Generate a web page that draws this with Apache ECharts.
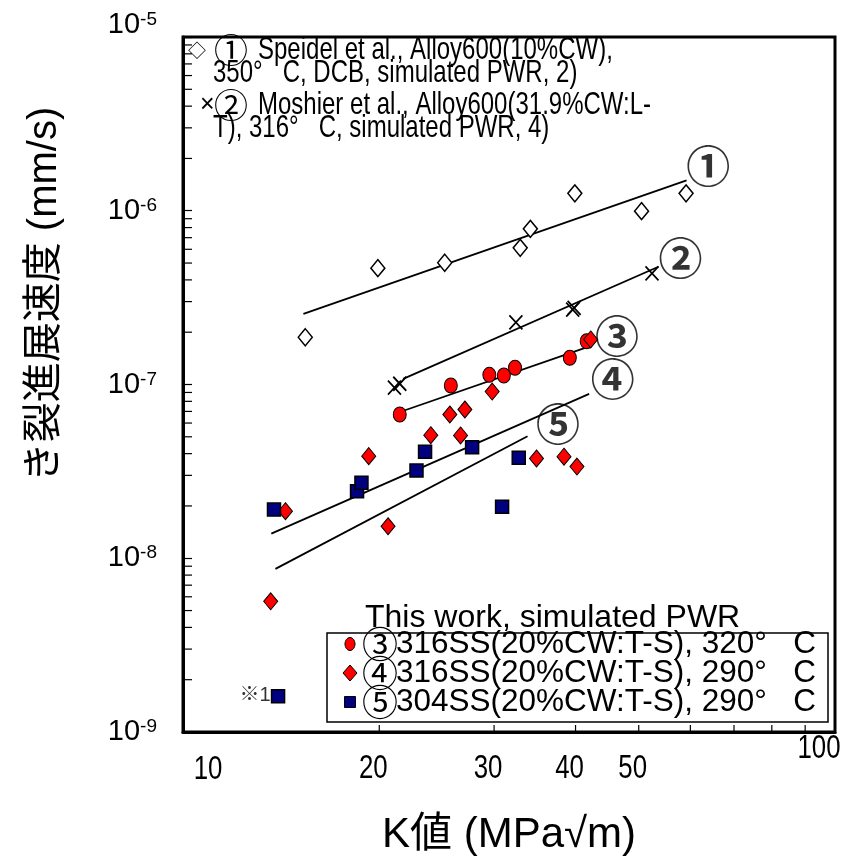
<!DOCTYPE html>
<html>
<head>
<meta charset="utf-8">
<script src="https://cdn.jsdelivr.net/npm/echarts@6/dist/echarts.min.js"></script>
<style>
  html, body { margin: 0; padding: 0; background: #fff; }
  #main { width: 854px; height: 864px; }
</style>
</head>
<body>
<div id="main"></div>
<script>
// K value (MPa√m) and crack growth rate (mm/s)
const speidelK = [15.4, 19.9, 25.2, 32.9, 34.1, 39.9, 50.5, 59.1];
const speidelRate = [1.87e-7, 4.67e-7, 5.02e-7, 6.12e-7, 7.87e-7, 1.26e-6, 9.95e-7, 1.26e-6];

const moshierK = [21.1, 21.5, 32.4, 39.6, 39.8, 52.4];
const moshierRate = [9.6e-8, 1.01e-7, 2.28e-7, 2.70e-7, 2.76e-7, 4.36e-7];

const ss316at320K = [21.5, 25.75, 29.5, 31.05, 32.3, 39.2, 41.6];
const ss316at320Rate = [6.72e-8, 9.87e-8, 1.137e-7, 1.127e-7, 1.248e-7, 1.425e-7, 1.775e-7];

const ss316at290K = [13.63, 14.36, 19.27, 20.63, 23.99, 25.66, 26.65, 27.06, 29.8, 34.85, 38.4, 40.2, 42.2];
const ss316at290Rate = [5.65e-9, 1.865e-8, 3.87e-8, 1.528e-8, 5.11e-8, 6.72e-8, 5.09e-8, 7.18e-8, 9.11e-8, 3.75e-8, 3.84e-8, 3.37e-8, 1.816e-7];

const ss304K = [13.79, 18.49, 18.78, 22.81, 23.51, 27.76, 30.86, 32.73, 13.99];
const ss304Rate = [1.906e-8, 2.43e-8, 2.72e-8, 3.20e-8, 4.10e-8, 4.36e-8, 1.977e-8, 3.79e-8, 1.605e-9];

// fitted trend lines (start, end)
const fitK = [[15.3, 59.2], [21.76, 53.6], [21.9, 41.8], [13.66, 41.97], [13.86, 33.76]];
const fitRate = [[2.55e-7, 1.494e-6], [1.078e-7, 4.76e-7], [7.11e-8, 1.648e-7], [1.387e-8, 8.84e-8], [8.69e-9, 5.04e-8]];

// circled line numbers
const tagText = ['①', '②', '③', '④', '⑤'];
const tagK = [63.9, 57.96, 46.3, 45.6, 37.6];
const tagRate = [1.806e-6, 5.36e-7, 1.897e-7, 1.068e-7, 5.88e-8];
const noteText = ['※1'];
const noteK = [12.9];
const noteRate = [1.62e-9];

// axes
const xLabels = [10, 20, 30, 40, 50, 100];
const xMinorTicks = [20, 30, 40, 50, 60, 70, 80, 90];
const yDecades = [-9, -8, -7, -6];
const yMinorSteps = [2, 3, 4, 5, 6, 7, 8, 9];

// legend texts
const refLegend = [
  ['◇', '①', 'Speidel et al., Alloy600(10%CW),', '350°   C, DCB, simulated PWR, 2)'],
  ['×', '②', 'Moshier et al., Alloy600(31.9%CW:L-', 'T), 316°   C, simulated PWR, 4)']
];
const workTitle = 'This work, simulated PWR';
const workNum = ['③', '④', '⑤'];
const workText = [
  '316SS(20%CW:T-S), 320°   C',
  '316SS(20%CW:T-S), 290°   C',
  '304SS(20%CW:T-S), 290°   C'
];

const sans = "'Liberation Sans', 'Noto Sans CJK JP', sans-serif";
const cjk = "'Noto Sans CJK JP', sans-serif";

const pairs = (xs, ys) => xs.map((x, i) => [x, ys[i]]);

const yMinorValues = [];
yDecades.forEach(d => yMinorSteps.forEach(s => yMinorValues.push(s * Math.pow(10, d))));

const red = '#ff0000';
const navy = '#000080';

function scatter(name, xs, ys, symbol, size, style) {
  return {
    name: name,
    type: 'scatter',
    data: pairs(xs, ys),
    symbol: symbol,
    symbolSize: size,
    itemStyle: Object.assign({ opacity: 1 }, style),
    emphasis: { disabled: true },
    z: 4
  };
}

const series = [];
fitK.forEach((k, i) => {
  series.push({
    type: 'line',
    data: pairs(k, fitRate[i]),
    symbol: 'none',
    silent: true,
    lineStyle: { color: '#000', width: 1.8 },
    z: 3
  });
});

series.push(
  scatter('speidel', speidelK, speidelRate, 'diamond', [14, 17],
    { color: '#fff', borderColor: '#000', borderWidth: 1.5 }),
  scatter('moshier', moshierK, moshierRate, 'path://M0,0L10,10M10,0L0,10', [13, 14],
    { color: 'none', borderColor: '#000', borderWidth: 1.8 }),
  scatter('ss316_320', ss316at320K, ss316at320Rate, 'circle', [13, 15],
    { color: red, borderColor: '#000', borderWidth: 1 }),
  scatter('ss316_290', ss316at290K, ss316at290Rate, 'diamond', [14, 17],
    { color: red, borderColor: '#000', borderWidth: 1 }),
  scatter('ss304_290', ss304K, ss304Rate, 'rect', [13, 13],
    { color: navy, borderColor: '#000', borderWidth: 1.5 })
);

// circled numbers next to the lines
series.push({
  type: 'scatter',
  data: pairs(tagK, tagRate),
  symbolSize: 0,
  silent: true,
  label: {
    show: true,
    position: 'inside',
    formatter: p => tagText[p.dataIndex],
    color: '#000',
    fontSize: 44,
    fontWeight: 'bold',
    fontFamily: cjk
  },
  z: 6
});
series.push({
  type: 'scatter',
  data: pairs(noteK, noteRate),
  symbolSize: 0,
  silent: true,
  label: {
    show: true,
    position: 'inside',
    formatter: p => noteText[p.dataIndex],
    color: '#000',
    fontSize: 20,
    fontFamily: sans
  },
  z: 6
});

// minor ticks on y
series.push({
  type: 'custom',
  silent: true,
  clip: false,
  data: yMinorValues.map(v => [10, v]),
  renderItem: function (params, api) {
    const p = api.coord([api.value(0), api.value(1)]);
    return {
      type: 'line',
      shape: { x1: p[0], y1: p[1], x2: p[0] + 9, y2: p[1] },
      style: { stroke: '#000', lineWidth: 1.2 }
    };
  },
  z: 5
});
// minor ticks on x
series.push({
  type: 'custom',
  silent: true,
  clip: false,
  data: xMinorTicks.map(v => [v, 1e-9]),
  renderItem: function (params, api) {
    const p = api.coord([api.value(0), api.value(1)]);
    return {
      type: 'line',
      shape: { x1: p[0], y1: p[1], x2: p[0], y2: p[1] - 7 },
      style: { stroke: '#000', lineWidth: 1.2 }
    };
  },
  z: 5
});
// x tick labels
series.push({
  type: 'custom',
  silent: true,
  clip: false,
  data: xLabels.map(v => [v, 1e-9]),
  renderItem: function (params, api) {
    const v = api.value(0);
    const p = api.coord([v, api.value(1)]);
    let dx = -6, dy = 37;
    if (v === 10) { dx = 25; dy = 38; }
    if (v === 100) { dx = -16; dy = 17; }
    return {
      type: 'text',
      x: p[0] + dx,
      y: p[1] + dy,
      scaleX: 0.76,
      style: {
        x: 0, y: 0,
        text: String(v),
        fill: '#000',
        font: '34px ' + sans,
        align: 'center',
        verticalAlign: 'middle'
      }
    };
  },
  z: 5
});

// text box, top left (literature data)
const graphic = [];
refLegend.forEach((row, i) => {
  const y1 = 50 + i * 55;
  const y2 = y1 + 23;
  graphic.push(
    { type: 'text', x: i ? 200 : 188, y: y1, style: { text: row[0], fill: '#000', font: (i ? 25 : 18) + 'px ' + (i ? sans : cjk), verticalAlign: 'middle' } },
    { type: 'text', x: 214, y: y1, style: { text: row[1], fill: '#000', font: '34px ' + cjk, verticalAlign: 'middle' } },
    { type: 'text', x: 258, y: y1, scaleX: 0.75, style: { x: 0, y: 0, text: row[2], fill: '#000', font: '32px ' + sans, verticalAlign: 'middle' } },
    { type: 'text', x: 213, y: y2, scaleX: 0.75, style: { x: 0, y: 0, text: row[3], fill: '#000', font: '32px ' + sans, verticalAlign: 'middle' } }
  );
});

// legend box, bottom right (this work)
graphic.push({
  type: 'text', x: 365, y: 618,
  style: { text: workTitle, fill: '#000', font: '32px ' + sans, verticalAlign: 'middle' }
});
graphic.push({
  type: 'rect',
  shape: { x: 327, y: 633, width: 501, height: 89 },
  style: { fill: 'none', stroke: '#000', lineWidth: 1.5 }
});
const rowY = [644, 673, 702];
graphic.push(
  { type: 'ellipse', shape: { cx: 350, cy: rowY[0], rx: 5, ry: 6.5 }, style: { fill: red, stroke: '#000', lineWidth: 1 } },
  { type: 'polygon', shape: { points: [[350, rowY[1] - 8], [357, rowY[1]], [350, rowY[1] + 8], [343, rowY[1]]] }, style: { fill: red, stroke: '#000', lineWidth: 1 } },
  { type: 'rect', shape: { x: 344.5, y: rowY[2] - 5.5, width: 11, height: 11 }, style: { fill: navy, stroke: '#000', lineWidth: 1 } }
);
workText.forEach((t, i) => {
  graphic.push(
    { type: 'text', x: 380, y: rowY[i], style: { text: workNum[i], fill: '#000', font: '36px ' + cjk, align: 'center', verticalAlign: 'middle' } },
    { type: 'text', x: 396, y: rowY[i], style: { text: t, fill: '#000', font: '31.5px ' + sans, verticalAlign: 'middle' } }
  );
});

const option = {
  backgroundColor: '#fff',
  animation: false,
  grid: {
    left: 183, right: 19, top: 37, bottom: 132,
    show: true, borderColor: '#000', borderWidth: 3
  },
  xAxis: {
    type: 'log',
    logBase: 10,
    min: 10,
    max: 100,
    name: 'K値 (MPa√m)',
    nameLocation: 'middle',
    nameGap: 82,
    nameTextStyle: { color: '#000', fontSize: 42, fontFamily: sans },
    axisLine: { lineStyle: { color: '#000', width: 3 } },
    axisTick: { show: false },
    axisLabel: { show: false },
    splitLine: { show: false }
  },
  yAxis: {
    type: 'log',
    logBase: 10,
    min: 1e-9,
    max: 1e-5,
    name: 'き裂進展速度 (mm/s)',
    nameLocation: 'middle',
    nameGap: 118,
    nameTextStyle: { color: '#000', fontSize: 40, fontFamily: sans, padding: [0, 0, 0, 180] },
    axisLine: { show: true, lineStyle: { color: '#000', width: 3 } },
    axisTick: { inside: true, length: 9, lineStyle: { color: '#000', width: 1.2 } },
    splitLine: { show: false },
    axisLabel: {
      margin: 26,
      formatter: function (v) {
        const e = Math.round(Math.log10(v));
        if (e === -5) return '{bt|10}{st|' + e + '}';
        return '{b|10}{s|' + e + '}';
      },
      rich: {
        b: { fontSize: 29, fontFamily: sans, color: '#000' },
        s: { fontSize: 19, fontFamily: sans, color: '#000', verticalAlign: 'top' },
        bt: { fontSize: 29, fontFamily: sans, color: '#000', padding: [0, 0, 24, 0] },
        st: { fontSize: 19, fontFamily: sans, color: '#000', verticalAlign: 'top' }
      }
    }
  },
  graphic: graphic,
  series: series
};

const chart = echarts.init(document.getElementById('main'));
chart.setOption(option);
</script>
</body>
</html>
